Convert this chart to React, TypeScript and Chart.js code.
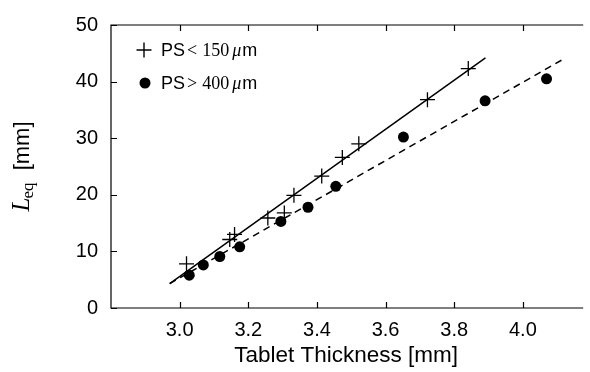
import React, { useEffect, useRef } from "react";
import { Chart, registerables } from "chart.js";

Chart.register(...registerables);

const plusX = [3.02, 3.146, 3.16, 3.257, 3.305, 3.333, 3.414, 3.474, 3.522, 3.722, 3.841];
const plusY = [7.8, 12.1, 13.0, 15.9, 16.8, 19.9, 23.3, 26.6, 29.0, 36.8, 42.3];
const dotX = [3.028, 3.069, 3.117, 3.175, 3.295, 3.374, 3.455, 3.652, 3.89, 4.069];
const dotY = [5.8, 7.6, 9.1, 10.8, 15.3, 17.8, 21.5, 30.2, 36.6, 40.5];
const solidFitX = [2.971, 3.891];
const solidFitY = [4.3, 44.2];
const dashedFitX = [2.971, 4.119];
const dashedFitY = [4.3, 44.0];
const xTicks = [3.0, 3.2, 3.4, 3.6, 3.8, 4.0];
const xTickLabels = ["3.0", "3.2", "3.4", "3.6", "3.8", "4.0"];
const yTicks = [0, 10, 20, 30, 40, 50];
const yTickLabels = ["0", "10", "20", "30", "40", "50"];
const legendLabels = ["PS", "150", "400"];

const SANS = "'Liberation Sans', Arial, sans-serif";
const SERIF = "'Liberation Serif', 'DejaVu Serif', serif";

const toPts = (xs: number[], ys: number[]) => xs.map((x, i) => ({ x, y: ys[i] }));

const framePlugin = {
  id: "frame",
  afterDraw(chart: any) {
    const { ctx, chartArea } = chart;
    const xs = chart.scales.x;
    const ys = chart.scales.y;
    const { left, right, top, bottom } = chartArea;
    ctx.save();
    ctx.strokeStyle = "#000";
    ctx.lineWidth = 1.2;
    ctx.beginPath();
    ctx.moveTo(right + 2, top);
    ctx.lineTo(left, top);
    ctx.lineTo(left, bottom);
    ctx.lineTo(right + 2, bottom);
    ctx.stroke();
    const tl = 6;
    ctx.beginPath();
    xTicks.forEach((v) => {
      const px = Math.round(xs.getPixelForValue(v)) + 0.5;
      ctx.moveTo(px, bottom);
      ctx.lineTo(px, bottom - tl);
      ctx.moveTo(px, top);
      ctx.lineTo(px, top + tl);
    });
    yTicks.forEach((v) => {
      const py = Math.round(ys.getPixelForValue(v)) + 0.5;
      ctx.moveTo(left, py);
      ctx.lineTo(left + tl, py);
    });
    ctx.stroke();

    // x title
    ctx.fillStyle = "#000";
    ctx.font = `22.5px ${SANS}`;
    ctx.textAlign = "center";
    ctx.textBaseline = "middle";
    ctx.fillText("Tablet Thickness [mm]", (left + right) / 2, 356);

    // y title (rotated)
    ctx.save();
    ctx.translate(22, 166);
    ctx.rotate(-Math.PI / 2);
    ctx.textBaseline = "alphabetic";
    ctx.textAlign = "left";
    const p1 = "L";
    const p2 = "eq";
    const p3 = "  [mm]";
    ctx.font = `italic 25px ${SERIF}`;
    const w1 = ctx.measureText(p1).width;
    ctx.font = `17px ${SERIF}`;
    const w2 = ctx.measureText(p2).width;
    ctx.font = `22px ${SANS}`;
    const w3 = ctx.measureText(p3).width;
    const total = w1 + w2 + w3;
    let cx = -total / 2;
    const base = 7;
    ctx.font = `italic 25px ${SERIF}`;
    ctx.fillText(p1, cx, base);
    cx += w1 - 1;
    ctx.font = `17px ${SERIF}`;
    ctx.fillText(p2, cx, base + 4);
    cx += w2;
    ctx.font = `22px ${SANS}`;
    ctx.fillText(p3, cx, base);
    ctx.restore();

    // legend
    const lx = 144;
    const rows = [
      { y: 50, sym: "<", num: legendLabels[1], cross: true },
      { y: 83, sym: ">", num: legendLabels[2], cross: false },
    ];
    rows.forEach((r) => {
      if (r.cross) {
        ctx.lineWidth = 1.4;
        ctx.beginPath();
        ctx.moveTo(lx - 7.5, r.y);
        ctx.lineTo(lx + 7.5, r.y);
        ctx.moveTo(lx, r.y - 7.5);
        ctx.lineTo(lx, r.y + 7.5);
        ctx.stroke();
      } else {
        ctx.beginPath();
        ctx.arc(lx + 1, r.y, 5.5, 0, Math.PI * 2);
        ctx.fill();
      }
      let tx = 161;
      const by = r.y + 6;
      ctx.textAlign = "left";
      ctx.textBaseline = "alphabetic";
      ctx.font = `18px ${SANS}`;
      ctx.fillText(legendLabels[0], tx, by);
      tx += ctx.measureText(legendLabels[0]).width + 2;
      ctx.font = `18px ${SERIF}`;
      ctx.fillText(r.sym, tx, by);
      tx += ctx.measureText(r.sym).width + 5;
      ctx.fillText(r.num, tx, by);
      tx += ctx.measureText(r.num).width + 3;
      ctx.font = `italic 18px ${SERIF}`;
      ctx.fillText("\u03bc", tx, by);
      tx += ctx.measureText("\u03bc").width + 1;
      ctx.font = `18px ${SANS}`;
      ctx.fillText("m", tx, by);
    });
    ctx.restore();
  },
};

export default function App() {
  const ref = useRef<HTMLCanvasElement | null>(null);
  useEffect(() => {
    if (!ref.current) return;
    const chart = new Chart(ref.current, {
      type: "scatter",
      data: {
        datasets: [
          {
            type: "line",
            data: toPts(solidFitX, solidFitY),
            borderColor: "#000",
            borderWidth: 1.5,
            pointRadius: 0,
            fill: false,
          },
          {
            type: "line",
            data: toPts(dashedFitX, dashedFitY),
            borderColor: "#000",
            borderWidth: 1.5,
            borderDash: [7, 5],
            pointRadius: 0,
            fill: false,
          },
          {
            data: toPts(plusX, plusY),
            pointStyle: "cross",
            pointRadius: 7.5,
            pointBorderWidth: 1.3,
            borderColor: "#000",
            backgroundColor: "#000",
          },
          {
            data: toPts(dotX, dotY),
            pointStyle: "circle",
            pointRadius: 5.5,
            pointBorderWidth: 0,
            borderColor: "#000",
            backgroundColor: "#000",
          },
        ] as any,
      },
      plugins: [framePlugin],
      options: {
        responsive: false,
        animation: false,
        devicePixelRatio: 1,
        layout: { padding: { top: 20, right: 0, left: 0, bottom: 0 } },
        plugins: { legend: { display: false }, tooltip: { enabled: false } },
        scales: {
          x: {
            type: "linear",
            min: 2.8,
            max: 4.17,
            border: { display: false },
            grid: { display: false, drawTicks: false },
            afterBuildTicks: (s: any) => {
              s.ticks = xTicks.map((v) => ({ value: v }));
            },
            afterFit: (s: any) => {
              s.height = 64;
            },
            ticks: {
              padding: 10,
              color: "#000",
              font: { family: SANS, size: 20 },
              callback: (v: any) => xTickLabels[xTicks.indexOf(Number(v))] ?? "",
            },
          },
          y: {
            type: "linear",
            min: 0,
            max: 50,
            border: { display: false },
            grid: { display: false, drawTicks: false },
            afterBuildTicks: (s: any) => {
              s.ticks = yTicks.map((v) => ({ value: v }));
            },
            afterFit: (s: any) => {
              s.width = 111;
            },
            ticks: {
              padding: 13,
              color: "#000",
              font: { family: SANS, size: 20 },
              callback: (v: any) => yTickLabels[yTicks.indexOf(Number(v))] ?? "",
            },
          },
        },
      },
    });
    return () => chart.destroy();
  }, []);
  return (
    <div style={{ position: "fixed", left: 0, top: 0, width: 590, height: 372, overflow: "hidden", background: "#fff" }}>
      <canvas ref={ref} width={590} height={372} style={{ width: 590, height: 372, display: "block" }} />
    </div>
  );
}
